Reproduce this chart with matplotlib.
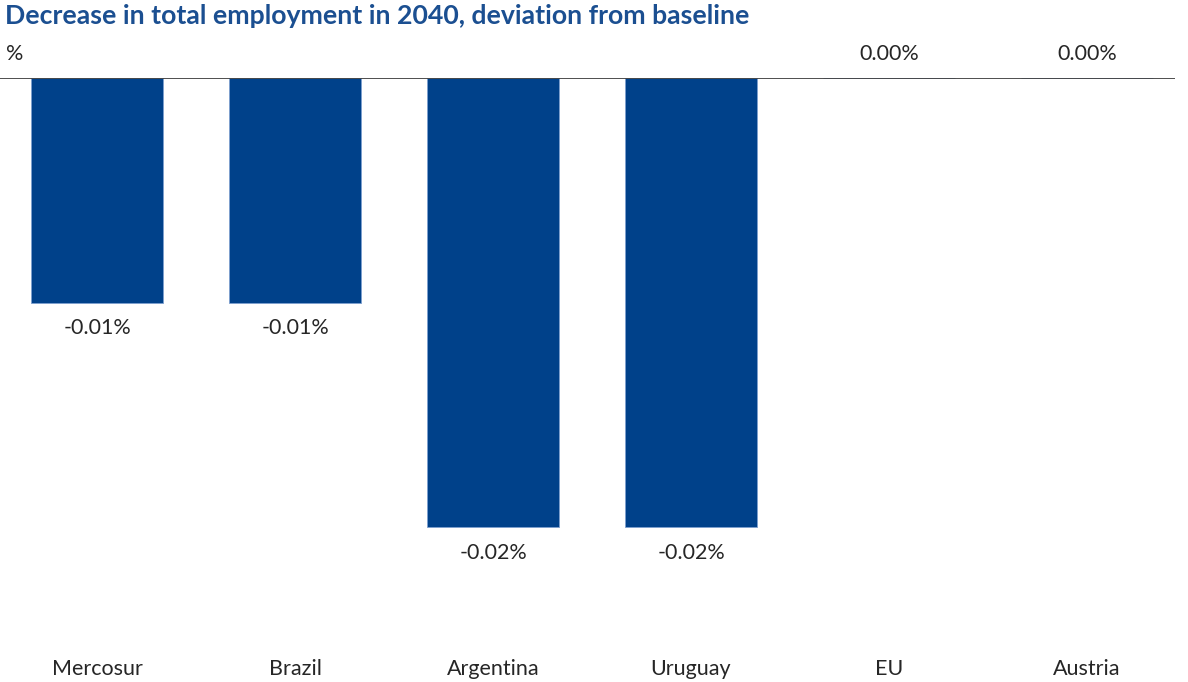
"""Decrease in total employment in 2040, deviation from baseline."""

import matplotlib.pyplot as plt

categories = ["Mercosur", "Brazil", "Argentina", "Uruguay", "EU", "Austria"]
values = [-0.01, -0.01, -0.02, -0.02, 0.00, 0.00]
value_labels = ["-0.01%", "-0.01%", "-0.02%", "-0.02%", "0.00%", "0.00%"]

plt.rcParams["font.family"] = ["Lato", "DejaVu Sans"]

W, H = 1188, 682
fig = plt.figure(figsize=(W / 100, H / 100), dpi=100)

# axes box in pixels: left 0, right 1175, top 78 (zero line), bottom 640
left, right, top, bottom = 0, 1175, 78, 640
ax = fig.add_axes([left / W, 1 - bottom / H, (right - left) / W, (bottom - top) / H])

x = list(range(len(categories)))
ax.bar(x, values, width=0.665, color="#00418A", edgecolor="#7D9FCF", linewidth=0.6, zorder=2)
ax.axhline(0, color="#404040", linewidth=1.3, zorder=3)

for xi, v, lab in zip(x, values, value_labels):
    offset = -18.5 if v < 0 else 17
    ax.annotate(lab, (xi, v), xytext=(0, offset), textcoords="offset points",
                ha="center", va="center", fontsize=15.5, color="#262626")

ax.set_xlim(-0.49, 5.444)
ax.set_ylim(-(bottom - top) / 22450, 0)
ax.set_xticks(x)
ax.set_xticklabels(categories, fontsize=15.5, color="#262626")
ax.tick_params(axis="x", length=0, pad=13.5)
ax.set_yticks([])
for s in ax.spines.values():
    s.set_visible(False)

fig.text(5 / W, 1 - 16 / H, "Decrease in total employment in 2040, deviation from baseline",
         fontsize=19.2, fontweight="bold", color="#1B4F91", ha="left", va="center")
fig.text(6 / W, 1 - 54 / H, "%", fontsize=15.5, color="#262626", ha="left", va="center")

fig.savefig("out.png", dpi=100)
